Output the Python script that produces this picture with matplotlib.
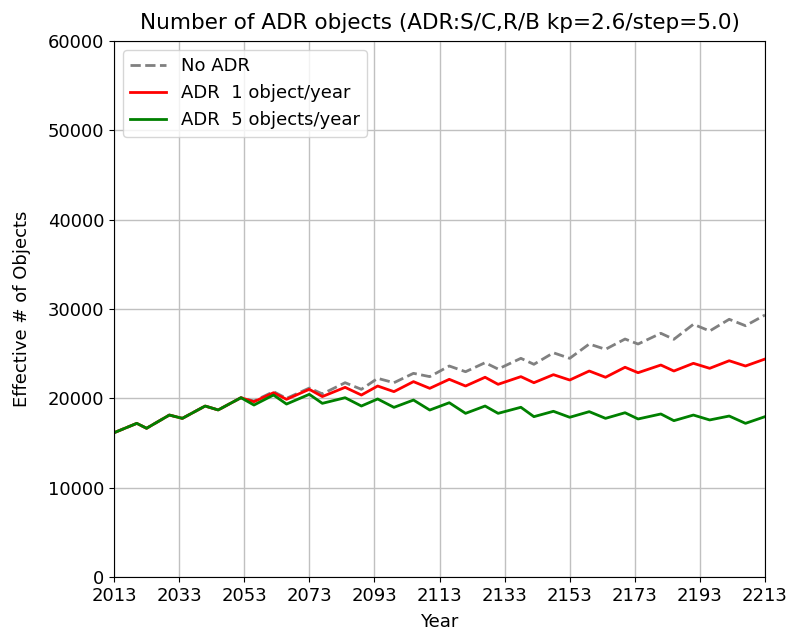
import matplotlib
matplotlib.use('Agg')
import matplotlib.pyplot as plt

# Peak / trough years
years = [2013, 2020, 2023, 2030, 2034, 2041, 2045, 2052, 2056, 2062,
         2066, 2073, 2077, 2084, 2089, 2094, 2099, 2105, 2110, 2116,
         2121, 2127, 2131, 2138, 2142, 2148, 2153, 2159, 2164, 2170,
         2174, 2181, 2185, 2191, 2196, 2202, 2207, 2213]

no_adr = [16150, 17200, 16650, 18130, 17760, 19140, 18700, 20070, 19700, 20750,
          20000, 21150, 20500, 21750, 21010, 22240, 21750, 22800, 22430, 23620,
          22980, 23990, 23280, 24480, 23810, 25100, 24480, 26080, 25490, 26640,
          26080, 27280, 26610, 28290, 27540, 28850, 28130, 29330]

adr_1 = [16150, 17200, 16650, 18130, 17760, 19140, 18700, 20070, 19620, 20630,
         19890, 21010, 20200, 21230, 20370, 21380, 20750, 21870, 21120, 22130,
         21380, 22360, 21570, 22430, 21750, 22650, 22050, 23060, 22360, 23480,
         22870, 23730, 23060, 23920, 23360, 24210, 23620, 24400]

adr_5 = [16150, 17200, 16650, 18130, 17760, 19140, 18700, 20070, 19250, 20370,
         19360, 20450, 19440, 20070, 19140, 19930, 18990, 19810, 18690, 19510,
         18320, 19140, 18320, 19000, 17950, 18550, 17880, 18510, 17760, 18390,
         17690, 18250, 17500, 18130, 17580, 18020, 17200, 17950]

xticks = list(range(2013, 2214, 20))

plt.rcParams['font.size'] = 13

fig = plt.figure(figsize=(7.89, 6.34), dpi=100)
ax = fig.add_axes([0.1445, 0.0899, 0.8251, 0.8454])

ax.plot(years, no_adr, color='gray', linestyle='--', linewidth=2, label='No ADR')
ax.plot(years, adr_1, color='red', linewidth=2, label='ADR  1 object/year')
ax.plot(years, adr_5, color='green', linewidth=2, label='ADR  5 objects/year')

ax.set_xlim(2013, 2213)
ax.set_ylim(0, 60000)
ax.set_xticks(xticks)
ax.grid(True, color='#c0c0c0', linewidth=1)
ax.set_xlabel('Year', labelpad=6)
ax.set_ylabel('Effective # of Objects', labelpad=12)
ax.set_title('Number of ADR objects (ADR:S/C,R/B kp=2.6/step=5.0)', fontsize=15.5, pad=9)
ax.legend(loc='upper left')

fig.savefig('out.png', dpi=100)
